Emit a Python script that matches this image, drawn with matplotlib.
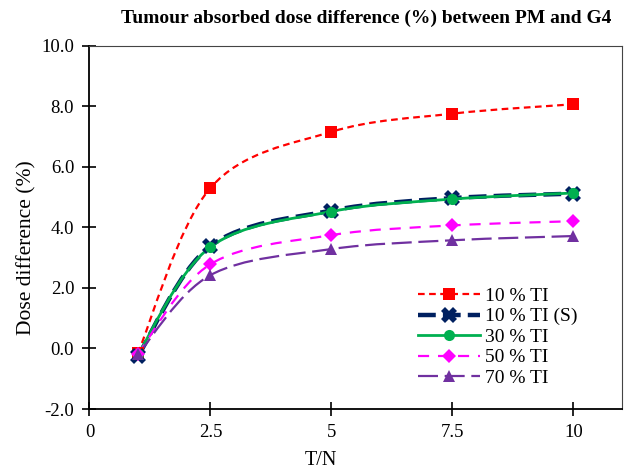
import numpy as np
import matplotlib
matplotlib.use('Agg')
import matplotlib.pyplot as plt
from matplotlib.path import Path
from matplotlib.patches import PathPatch
from matplotlib.lines import Line2D

plt.rcParams['font.family'] = ['Liberation Serif', 'DejaVu Serif']

# data
tn = [1, 2.5, 5, 7.5, 10]
ti10 = [-0.16, 5.30, 7.15, 7.75, 8.06]
ti10_s = [-0.26, 3.38, 4.55, 4.96, 5.11]
ti30 = [-0.20, 3.35, 4.52, 4.93, 5.13]
ti50 = [-0.18, 2.78, 3.74, 4.06, 4.20]
ti70 = [-0.20, 2.42, 3.28, 3.57, 3.71]

series = [
    ('10 % TI', ti10, dict(color='#ff0000', ls=(0, (3, 2)), lw=1.6, marker='s', ms=8)),
    ('10 % TI (S)', ti10_s, dict(color='#002060', ls=(0, (4, 1.6)), lw=3.2, marker='X', ms=11)),
    ('30 % TI', ti30, dict(color='#00b050', ls='-', lw=2.0, marker='o', ms=8)),
    ('50 % TI', ti50, dict(color='#ff00ff', ls=(0, (5, 4)), lw=1.6, marker='D', ms=7)),
    ('70 % TI', ti70, dict(color='#7030a0', ls=(0, (9, 3)), lw=1.6, marker='^', ms=9)),
]


def smooth_path(x, y, t=1 / 6):
    # excel-style smoothed line as cubic bezier segments
    x = np.asarray(x, float)
    y = np.asarray(y, float)
    n = len(x)
    verts = [(x[0], y[0])]
    codes = [Path.MOVETO]
    for i in range(n - 1):
        p0 = np.array([x[max(i - 1, 0)], y[max(i - 1, 0)]])
        p1 = np.array([x[i], y[i]])
        p2 = np.array([x[i + 1], y[i + 1]])
        p3 = np.array([x[min(i + 2, n - 1)], y[min(i + 2, n - 1)]])
        c1 = p1 + (p2 - p0) * t
        c2 = p2 - (p3 - p1) * t
        verts += [tuple(c1), tuple(c2), tuple(p2)]
        codes += [Path.CURVE4] * 3
    return Path(verts, codes)


fig = plt.figure(figsize=(6.27, 4.73), dpi=100)
ax = fig.add_axes([0.1427, 0.1353, 0.849, 0.7685])

handles = []
for label, vals, st in series:
    patch = PathPatch(smooth_path(tn, vals), fill=False, edgecolor=st['color'],
                      linestyle=st['ls'], linewidth=st['lw'], zorder=2)
    ax.add_patch(patch)
    ax.plot(tn, vals, ls='none', marker=st['marker'], ms=st['ms'],
            color=st['color'], mew=0, zorder=3)
    handles.append(Line2D([], [], color=st['color'], ls=st['ls'], lw=st['lw'],
                          marker=st['marker'], ms=st['ms'], mew=0, label=label))

ax.set_xlim(0, 11)
ax.set_ylim(-2, 10)
ax.set_xticks([0, 2.5, 5, 7.5, 10])
ax.set_xticklabels(['0', '2.5', '5', '7.5', '10'])
ax.set_yticks(np.arange(-2, 10.1, 2))
ax.set_yticklabels([f'{v:.1f}' for v in np.arange(-2, 10.1, 2)])
ax.tick_params(direction='inout', length=10, width=1.2, labelsize=13.5, pad=6)
ax.tick_params(top=False, right=False)
for s in ['left', 'bottom']:
    ax.spines[s].set_linewidth(1.3)
for s in ['top', 'right']:
    ax.spines[s].set_linewidth(0.8)
    ax.spines[s].set_color('#444444')

ax.set_xlabel('T/N', fontsize=14.5)
ax.xaxis.set_label_coords((321 - 89.5) / 532.5, -0.115)
ax.set_ylabel('Dose difference (%)', fontsize=15.5)
ax.yaxis.set_label_coords(-0.099, 0.443)
fig.text(366 / 627, 1 - 18 / 473, 'Tumour absorbed dose difference (%) between PM and G4',
         ha='center', va='center', fontsize=14, fontweight='bold')

ax.legend(handles=handles, loc='upper left', bbox_to_anchor=(0.617, 0.335),
          frameon=False, fontsize=14, handlelength=3.2, handletextpad=0.25,
          labelspacing=0.15, borderpad=0, borderaxespad=0)

fig.savefig('out.png', dpi=100)
